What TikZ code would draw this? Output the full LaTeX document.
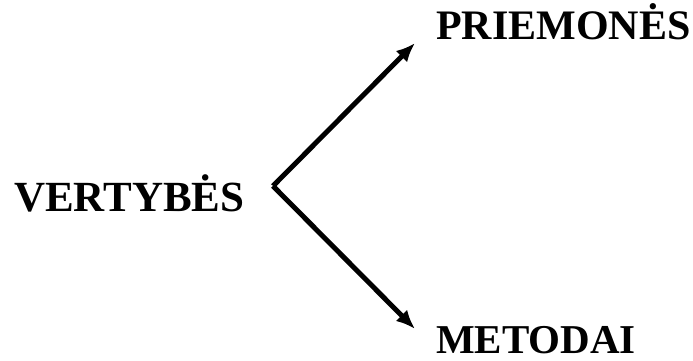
\documentclass[tikz,border=0pt]{standalone}
\usepackage{fontspec}
\setmainfont{Liberation Serif}
\usepackage{tikz}
\usetikzlibrary{arrows.meta,positioning}

\begin{document}
\begin{tikzpicture}[x=1pt,y=1pt,>={Latex[length=19pt,width=16pt]},
  lbl/.style={anchor=base west,inner sep=0pt,text depth=0pt,font=\bfseries}]
  \useasboundingbox (0,0) rectangle (693,361);
  \node[lbl,font=\fontsize{43}{43}\selectfont\bfseries] (vert) at (14,149) {VERTYBĖS};
  \node[lbl,font=\fontsize{42}{42}\selectfont\bfseries] (prie) at (436,321) {PRIEMONĖS};
  \node[lbl,font=\fontsize{41}{41}\selectfont\bfseries] (meto) at (436,7) {METODAI};
  \coordinate (fork) at (273,175);
  \coordinate (up) at (415,318);
  \coordinate (down) at (415,32);
  \draw[->,line width=5pt] (fork) -- (up);
  \draw[->,line width=5pt] (fork) -- (down);
\end{tikzpicture}
\end{document}
